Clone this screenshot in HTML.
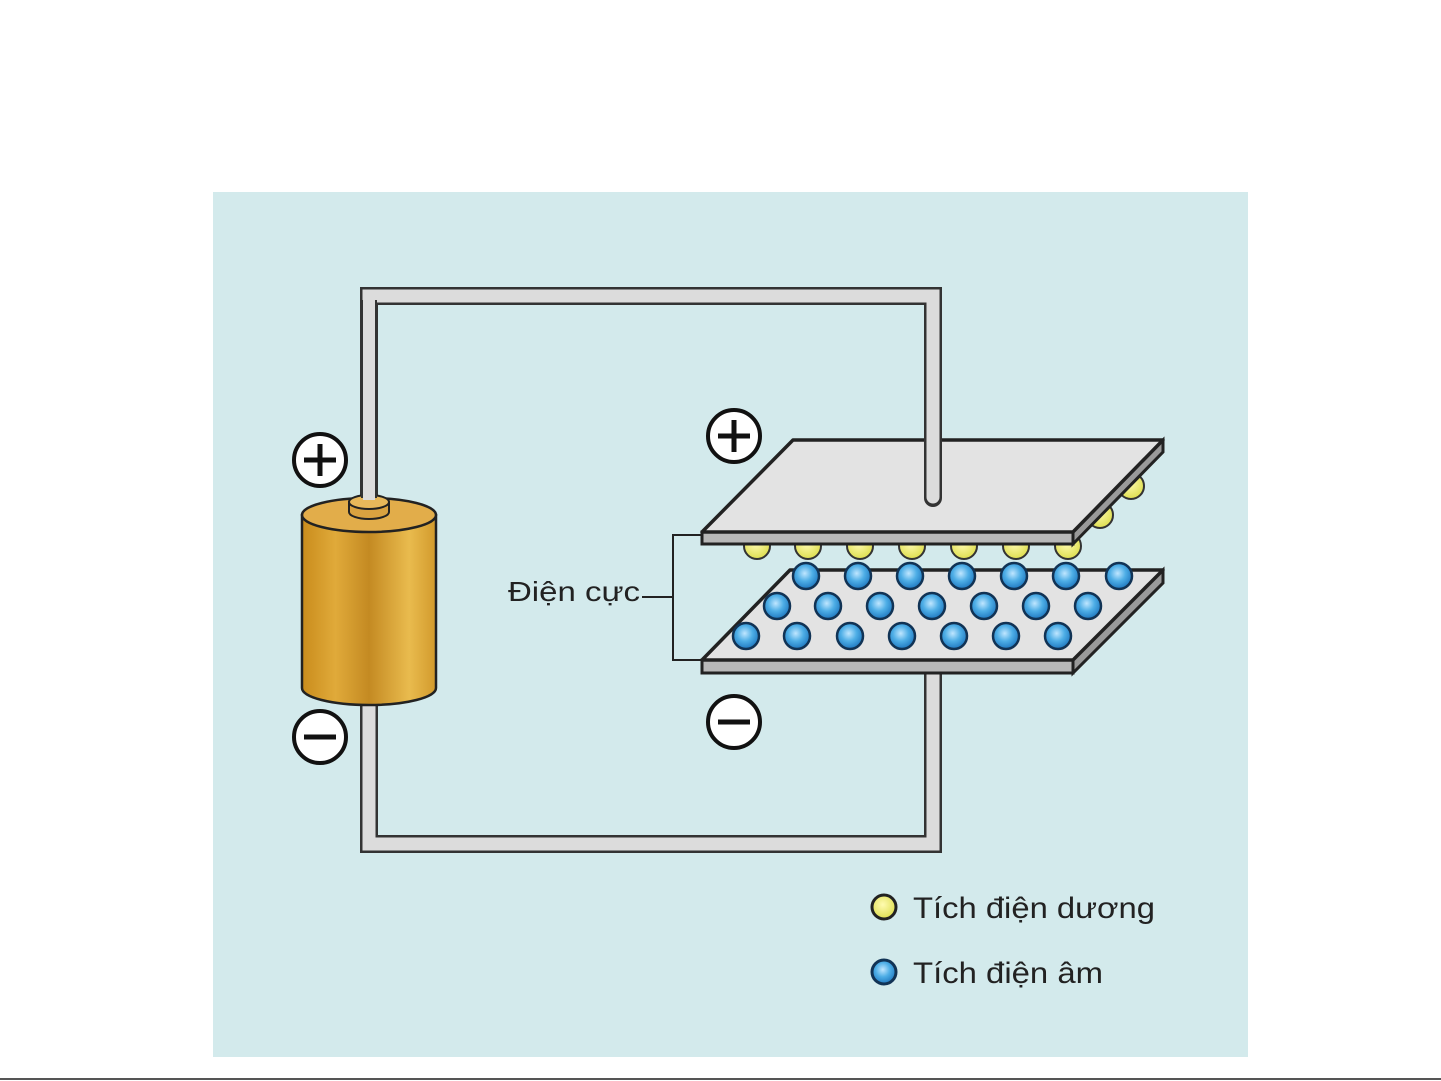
<!DOCTYPE html>
<html><head><meta charset="utf-8"><style>
html,body{margin:0;padding:0;background:#fff;width:1441px;height:1081px;overflow:hidden}
svg{display:block}
text{font-family:"Liberation Sans",sans-serif;fill:#222}
</style></head><body>
<svg width="1441" height="1081" viewBox="0 0 1441 1081">
<defs>
<linearGradient id="gold" x1="0" x2="1" y1="0" y2="0">
<stop offset="0" stop-color="#c98c1c"/><stop offset="0.25" stop-color="#e0aa3a"/><stop offset="0.5" stop-color="#c48a22"/><stop offset="0.8" stop-color="#e9bb4e"/><stop offset="1" stop-color="#d29a2c"/>
</linearGradient>
<radialGradient id="blue" cx="0.45" cy="0.4" r="0.6"><stop offset="0" stop-color="#bfe6ff"/><stop offset="0.5" stop-color="#4eaee6"/><stop offset="1" stop-color="#1f78c0"/></radialGradient>
<radialGradient id="yel" cx="0.45" cy="0.4" r="0.6"><stop offset="0" stop-color="#fffbb0"/><stop offset="1" stop-color="#dede50"/></radialGradient>
</defs>
<rect x="213" y="192" width="1035" height="865" fill="#d3eaec"/>
<line x1="0" y1="1079" x2="1441" y2="1079" stroke="#555" stroke-width="2"/>
<path d="M369 503 V296 H933 V500" fill="none" stroke="#333" stroke-width="18"/>
<path d="M369 503 V296 H933 V500" fill="none" stroke="#dcdcdc" stroke-width="13"/>
<path d="M369 700 V844 H933 V670" fill="none" stroke="#333" stroke-width="18"/>
<path d="M369 700 V844 H933 V670" fill="none" stroke="#dcdcdc" stroke-width="13"/>
<path d="M302 515 V688 A67 17 0 0 0 436 688 V515 Z" fill="url(#gold)" stroke="#222" stroke-width="2.5"/>
<ellipse cx="369" cy="515" rx="67" ry="17" fill="#e2ad4a" stroke="#222" stroke-width="2.5"/>
<path d="M349 502 V512 A20 7 0 0 0 389 512 V502 Z" fill="#d9a240" stroke="#222" stroke-width="2"/>
<ellipse cx="369" cy="502" rx="20" ry="7" fill="#e8b85a" stroke="#222" stroke-width="2"/>
<rect x="363" y="300" width="12" height="200" fill="#dcdcdc"/>
<line x1="362" y1="300" x2="362" y2="498" stroke="#333" stroke-width="2"/>
<line x1="376" y1="300" x2="376" y2="498" stroke="#333" stroke-width="2"/>
<g stroke="#111" fill="#fff" stroke-width="4">
<circle cx="320" cy="460" r="26"/><circle cx="734" cy="436" r="26"/><circle cx="320" cy="737" r="26"/><circle cx="734" cy="722" r="26"/>
</g>
<g stroke="#111" stroke-width="5">
<line x1="304" y1="460" x2="336" y2="460"/><line x1="320" y1="444" x2="320" y2="476"/>
<line x1="718" y1="436" x2="750" y2="436"/><line x1="734" y1="420" x2="734" y2="452"/>
<line x1="304" y1="737" x2="336" y2="737"/><line x1="718" y1="722" x2="750" y2="722"/>
</g>
<g fill="url(#yel)" stroke="#333" stroke-width="2">
<circle cx="757" cy="546" r="13"/><circle cx="808" cy="546" r="13"/><circle cx="860" cy="546" r="13"/><circle cx="912" cy="546" r="13"/><circle cx="964" cy="546" r="13"/><circle cx="1016" cy="546" r="13"/><circle cx="1068" cy="546" r="13"/><circle cx="1100" cy="515" r="13"/><circle cx="1131" cy="486" r="13"/>
</g>
<polygon points="702,532 1073,532 1073,544 702,544" fill="#b8b8b8" stroke="#222" stroke-width="3"/>
<polygon points="1073,532 1163,440 1163,452 1073,544" fill="#9a9a9a" stroke="#222" stroke-width="3"/>
<polygon points="793,440 1163,440 1073,532 702,532" fill="#e3e3e3" stroke="#222" stroke-width="3.5" stroke-linejoin="round"/>
<path d="M933 440 V498" stroke="#333" stroke-width="18" stroke-linecap="round"/>
<path d="M933 430 V497" stroke="#dcdcdc" stroke-width="13" stroke-linecap="round"/>
<polygon points="702,660 1073,660 1073,673 702,673" fill="#b8b8b8" stroke="#222" stroke-width="3"/>
<polygon points="1073,660 1163,570 1163,583 1073,673" fill="#9a9a9a" stroke="#222" stroke-width="3"/>
<polygon points="790,570 1163,570 1073,660 702,660" fill="#e3e3e3" stroke="#222" stroke-width="3.5" stroke-linejoin="round"/>
<g fill="url(#blue)" stroke="#113355" stroke-width="2.5">
<circle cx="806" cy="576" r="13"/><circle cx="858" cy="576" r="13"/><circle cx="910" cy="576" r="13"/><circle cx="962" cy="576" r="13"/><circle cx="1014" cy="576" r="13"/><circle cx="1066" cy="576" r="13"/><circle cx="1119" cy="576" r="13"/>
<circle cx="777" cy="606" r="13"/><circle cx="828" cy="606" r="13"/><circle cx="880" cy="606" r="13"/><circle cx="932" cy="606" r="13"/><circle cx="984" cy="606" r="13"/><circle cx="1036" cy="606" r="13"/><circle cx="1088" cy="606" r="13"/>
<circle cx="746" cy="636" r="13"/><circle cx="797" cy="636" r="13"/><circle cx="850" cy="636" r="13"/><circle cx="902" cy="636" r="13"/><circle cx="954" cy="636" r="13"/><circle cx="1006" cy="636" r="13"/><circle cx="1058" cy="636" r="13"/>
</g>
<path d="M702 535 H673 V660 H702 M642 597 H673" fill="none" stroke="#222" stroke-width="2"/>
<text x="508" y="601" font-size="28" textLength="132" lengthAdjust="spacingAndGlyphs">Điện cực</text>
<circle cx="884" cy="907" r="12" fill="url(#yel)" stroke="#222" stroke-width="3"/>
<text x="913" y="918" font-size="30" textLength="242" lengthAdjust="spacingAndGlyphs">Tích điện dương</text>
<circle cx="884" cy="972" r="12" fill="url(#blue)" stroke="#113355" stroke-width="3"/>
<text x="913" y="983" font-size="30" textLength="190" lengthAdjust="spacingAndGlyphs">Tích điện âm</text>
</svg>
</body></html>
